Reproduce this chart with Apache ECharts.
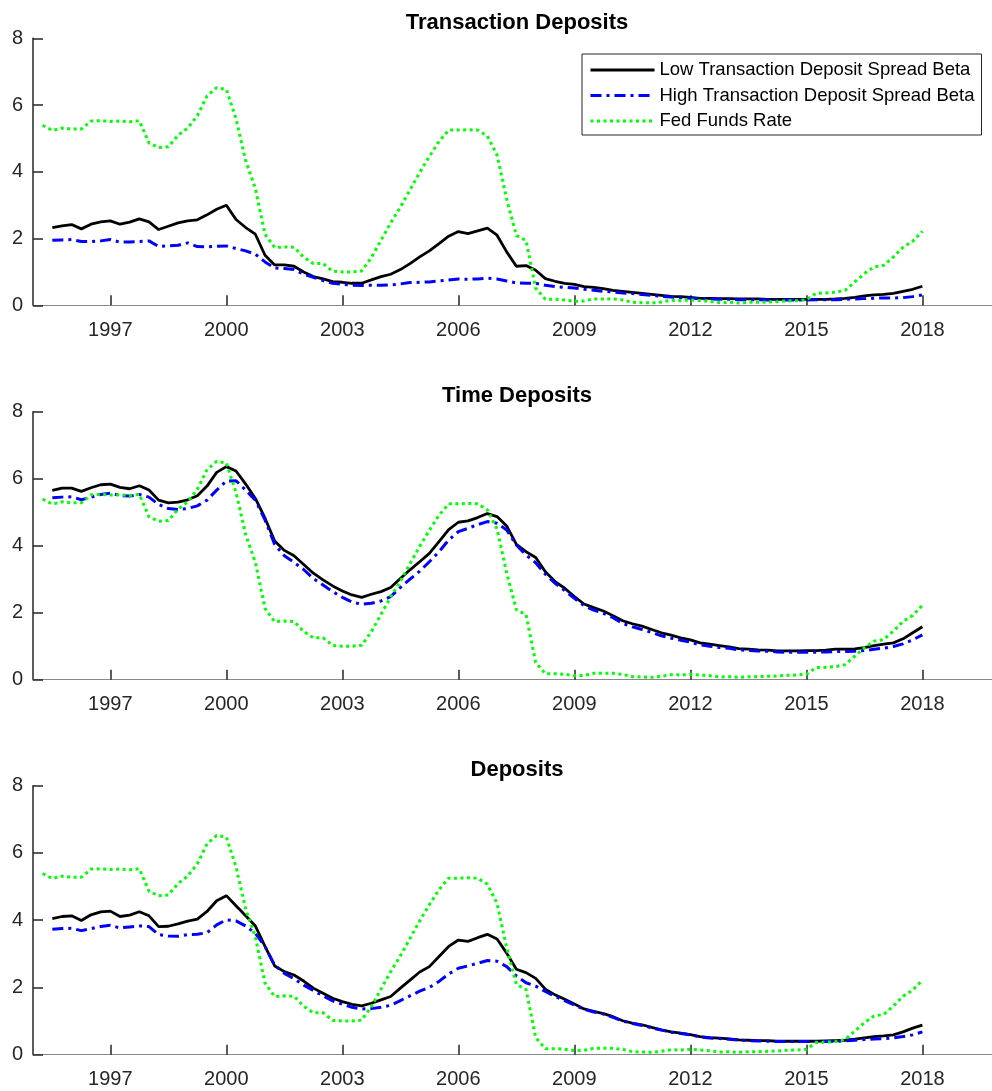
<!DOCTYPE html>
<html>
<head>
<meta charset="utf-8">
<script src="https://cdn.jsdelivr.net/npm/echarts@6/dist/echarts.min.js"></script>
<style>
html,body{margin:0;padding:0;background:#fff;}
#chart{width:992px;height:1091px;}
</style>
</head>
<body>
<div id="chart"></div>
<script>
// ---- Data (quarterly) ----
const spreadStart = 1995.5;   // first quarter of deposit-rate series
const fedStart = 1995.25;     // first quarter of fed funds series
const xTickYears = [1997, 2000, 2003, 2006, 2009, 2012, 2015, 2018];
const yTickValues = [0, 2, 4, 6, 8];
const panelTitles = ['Transaction Deposits', 'Time Deposits', 'Deposits'];
const seriesNames = ['Low Transaction Deposit Spread Beta', 'High Transaction Deposit Spread Beta', 'Fed Funds Rate'];

const fedFunds = [
  5.39, 5.24, 5.31, 5.28, 5.28, 5.52, 5.53, 5.51, 5.52, 5.50, 5.53, 4.86,
  4.73, 4.75, 5.09, 5.31, 5.68, 6.27, 6.52, 6.47, 5.59, 4.33, 3.50, 2.13,
  1.73, 1.75, 1.74, 1.44, 1.25, 1.25, 1.02, 1.00, 1.00, 1.03, 1.43, 1.95,
  2.47, 2.94, 3.46, 3.98, 4.46, 4.91, 5.25, 5.25, 5.26, 5.25, 5.07, 4.50,
  3.18, 2.09, 1.94, 0.51, 0.18, 0.18, 0.16, 0.12, 0.13, 0.19, 0.19, 0.19,
  0.16, 0.09, 0.08, 0.07, 0.10, 0.15, 0.14, 0.16, 0.14, 0.12, 0.08, 0.09,
  0.07, 0.09, 0.09, 0.10, 0.11, 0.13, 0.14, 0.16, 0.36, 0.37, 0.39, 0.45,
  0.70, 0.95, 1.15, 1.20, 1.45, 1.74, 1.92, 2.22
];

const transLow = [
  2.33, 2.38, 2.42, 2.29, 2.43, 2.50, 2.53, 2.43, 2.49, 2.59, 2.50, 2.27,
  2.37, 2.47, 2.53, 2.56, 2.71, 2.88, 3.00, 2.57, 2.33, 2.13, 1.50, 1.21,
  1.21, 1.17, 1.00, 0.86, 0.79, 0.71, 0.69, 0.66, 0.66, 0.76, 0.86, 0.93,
  1.07, 1.25, 1.45, 1.63, 1.85, 2.07, 2.21, 2.15, 2.23, 2.31,
  2.10, 1.60, 1.17, 1.19, 1.05, 0.80, 0.72, 0.66, 0.63, 0.56, 0.54, 0.50,
  0.45, 0.42, 0.39, 0.36, 0.33, 0.30, 0.27, 0.26, 0.24, 0.21, 0.21, 0.20,
  0.20, 0.19, 0.19, 0.19, 0.18, 0.18, 0.18, 0.18, 0.18, 0.18, 0.18, 0.19,
  0.21, 0.24, 0.28, 0.31, 0.33, 0.36, 0.42, 0.48, 0.57
];
const transHigh = [
  1.95, 1.96, 1.97, 1.91, 1.91, 1.93, 1.97, 1.89, 1.90, 1.91, 1.93, 1.76,
  1.78, 1.80, 1.87, 1.76, 1.75, 1.77, 1.78, 1.70, 1.63, 1.53, 1.30, 1.12,
  1.10, 1.07, 0.93, 0.84, 0.74, 0.66, 0.63, 0.60, 0.59, 0.60, 0.60, 0.61,
  0.64, 0.68, 0.69, 0.70, 0.73, 0.76, 0.79, 0.78, 0.79, 0.81,
  0.79, 0.73, 0.67, 0.66, 0.66, 0.60, 0.56, 0.54, 0.52, 0.48, 0.45, 0.42,
  0.40, 0.37, 0.35, 0.32, 0.30, 0.27, 0.25, 0.23, 0.21, 0.20, 0.19, 0.18,
  0.18, 0.17, 0.17, 0.17, 0.16, 0.16, 0.16, 0.16, 0.16, 0.17, 0.17, 0.17,
  0.18, 0.19, 0.20, 0.21, 0.22, 0.22, 0.23, 0.26, 0.31
];
const timeLow = [
  5.65, 5.72, 5.72, 5.62, 5.73, 5.82, 5.84, 5.74, 5.70, 5.79, 5.66, 5.36,
  5.28, 5.30, 5.37, 5.49, 5.78, 6.19, 6.36, 6.23, 5.84, 5.41, 4.82, 4.14,
  3.86, 3.70, 3.44, 3.18, 2.98, 2.80, 2.65, 2.53, 2.46, 2.55, 2.63, 2.75,
  3.02, 3.28, 3.52, 3.77, 4.12, 4.48, 4.70, 4.74, 4.84, 4.96,
  4.87, 4.59, 4.04, 3.82, 3.65, 3.22, 2.93, 2.73, 2.48, 2.26, 2.15, 2.05,
  1.91, 1.76, 1.67, 1.60, 1.50, 1.40, 1.33, 1.25, 1.19, 1.10, 1.06, 1.02,
  0.98, 0.93, 0.91, 0.89, 0.88, 0.86, 0.86, 0.86, 0.87, 0.87, 0.88, 0.91,
  0.91, 0.92, 0.96, 1.02, 1.06, 1.10, 1.22, 1.40, 1.58
];
const timeHigh = [
  5.43, 5.45, 5.46, 5.37, 5.45, 5.53, 5.57, 5.50, 5.48, 5.53, 5.45, 5.23,
  5.11, 5.08, 5.11, 5.19, 5.36, 5.66, 5.93, 5.94, 5.66, 5.36, 4.77, 4.04,
  3.70, 3.50, 3.29, 3.02, 2.83, 2.63, 2.46, 2.32, 2.25, 2.28, 2.35, 2.48,
  2.75, 3.00, 3.24, 3.52, 3.82, 4.17, 4.42, 4.52, 4.63, 4.72,
  4.67, 4.47, 4.02, 3.72, 3.49, 3.15, 2.88, 2.66, 2.43, 2.21, 2.08, 1.98,
  1.85, 1.68, 1.58, 1.50, 1.41, 1.31, 1.24, 1.18, 1.12, 1.04, 1.00, 0.96,
  0.94, 0.89, 0.87, 0.86, 0.85, 0.83, 0.82, 0.82, 0.82, 0.82, 0.83, 0.84,
  0.84, 0.85, 0.87, 0.91, 0.94, 0.99, 1.07, 1.19, 1.34
];
const depLow = [
  4.05, 4.11, 4.13, 3.99, 4.16, 4.25, 4.27, 4.11, 4.15, 4.25, 4.13, 3.81,
  3.82, 3.89, 3.97, 4.03, 4.26, 4.58, 4.73, 4.43, 4.13, 3.83, 3.22, 2.64,
  2.47, 2.37, 2.19, 1.98, 1.83, 1.68, 1.58, 1.50, 1.45, 1.53, 1.63, 1.73,
  1.98, 2.22, 2.46, 2.62, 2.92, 3.22, 3.41, 3.37, 3.48, 3.58,
  3.44, 3.02, 2.54, 2.44, 2.27, 1.95, 1.78, 1.65, 1.51, 1.36, 1.29, 1.22,
  1.13, 1.01, 0.94, 0.89, 0.81, 0.74, 0.68, 0.64, 0.60, 0.54, 0.51, 0.49,
  0.47, 0.44, 0.43, 0.42, 0.42, 0.40, 0.40, 0.40, 0.40, 0.40, 0.41, 0.42,
  0.43, 0.46, 0.50, 0.54, 0.56, 0.59, 0.68, 0.79, 0.88
];
const depHigh = [
  3.73, 3.75, 3.76, 3.69, 3.75, 3.81, 3.85, 3.77, 3.80, 3.83, 3.81, 3.57,
  3.53, 3.52, 3.57, 3.58, 3.63, 3.86, 4.01, 3.98, 3.83, 3.61, 3.22, 2.66,
  2.42, 2.26, 2.07, 1.91, 1.75, 1.60, 1.50, 1.41, 1.36, 1.37, 1.41, 1.47,
  1.61, 1.75, 1.89, 2.00, 2.18, 2.40, 2.57, 2.64, 2.72, 2.80,
  2.78, 2.62, 2.34, 2.14, 2.04, 1.88, 1.73, 1.61, 1.48, 1.35, 1.27, 1.21,
  1.11, 1.00, 0.93, 0.87, 0.80, 0.73, 0.67, 0.63, 0.59, 0.53, 0.50, 0.48,
  0.46, 0.43, 0.42, 0.41, 0.40, 0.39, 0.39, 0.39, 0.39, 0.39, 0.39, 0.40,
  0.41, 0.43, 0.45, 0.47, 0.48, 0.50, 0.54, 0.59, 0.68
];

// ---- Build chart ----
function toPairs(start, arr) { return arr.map((v, i) => [start + i * 0.25, v]); }

const FONT = '"Liberation Sans", Arial, Helvetica, sans-serif';
const panels = [
  { low: transLow, high: transHigh },
  { low: timeLow, high: timeHigh },
  { low: depLow, high: depHigh }
];
const gridPos = [
  { top: 38.3, height: 267 },
  { top: 411.7, height: 268 },
  { top: 785.7, height: 269 }
];
const titleTops = [7, 380, 754];

const grids = [], xAxes = [], yAxes = [], series = [], titles = [];
panels.forEach((p, k) => {
  grids.push({ left: 33, width: 959, top: gridPos[k].top, height: gridPos[k].height, containLabel: false });
  titles.push({
    text: panelTitles[k], left: 512, top: titleTops[k], textAlign: 'center',
    textStyle: { fontFamily: FONT, fontSize: 22, fontWeight: 'bold', color: '#000' }
  });
  xAxes.push({
    type: 'value', gridIndex: k, min: 1995, max: 2019.8,
    axisLine: { show: true, onZero: false, lineStyle: { color: '#888', width: 1.2 } },
    axisTick: { show: true, inside: true, length: 10, customValues: xTickYears, lineStyle: { color: '#262626', width: 1.5 } },
    axisLabel: { show: true, customValues: xTickYears, margin: 15, fontFamily: FONT, fontSize: 20, color: '#262626', formatter: v => String(v) },
    splitLine: { show: false }
  });
  yAxes.push({
    type: 'value', gridIndex: k, min: 0, max: 8, interval: 2,
    axisLine: { show: true, lineStyle: { color: '#262626', width: 1.5 } },
    axisTick: { show: true, inside: true, length: 10, lineStyle: { color: '#262626', width: 1.5 } },
    axisLabel: { show: true, margin: 10, fontFamily: FONT, fontSize: 20, color: '#262626' },
    splitLine: { show: false }
  });
  series.push({
    name: seriesNames[0], type: 'line', xAxisIndex: k, yAxisIndex: k,
    data: toPairs(spreadStart, p.low), symbol: 'none', animation: false,
    lineStyle: { color: '#000', width: 2.8, type: 'solid' }, itemStyle: { color: '#000' }
  });
  series.push({
    name: seriesNames[1], type: 'line', xAxisIndex: k, yAxisIndex: k,
    data: toPairs(spreadStart, p.high), symbol: 'none', animation: false,
    lineStyle: { color: '#0000ff', width: 3, type: [11, 5, 3, 5] }, itemStyle: { color: '#0000ff' }
  });
  series.push({
    name: seriesNames[2], type: 'line', xAxisIndex: k, yAxisIndex: k,
    data: toPairs(fedStart, fedFunds), symbol: 'none', animation: false,
    lineStyle: { color: '#00ff00', width: 3, type: [3, 3.5] }, itemStyle: { color: '#00ff00' }
  });
});

const chart = echarts.init(document.getElementById('chart'), null, { renderer: 'canvas' });
chart.setOption({
  backgroundColor: '#fff',
  animation: false,
  title: titles,
  legend: {
    data: seriesNames,
    orient: 'vertical',
    left: 582, top: 54,
    padding: [6, 7, 4, 7],
    itemWidth: 64, itemHeight: 14, itemGap: 5.5,
    itemStyle: { opacity: 0 },
    lineStyle: { width: 3 },
    borderColor: '#262626', borderWidth: 1, backgroundColor: '#fff',
    textStyle: { fontFamily: FONT, fontSize: 18.5, color: '#000', lineHeight: 20 },
    selectedMode: false
  },
  grid: grids,
  xAxis: xAxes,
  yAxis: yAxes,
  series: series
});
</script>
</body>
</html>
